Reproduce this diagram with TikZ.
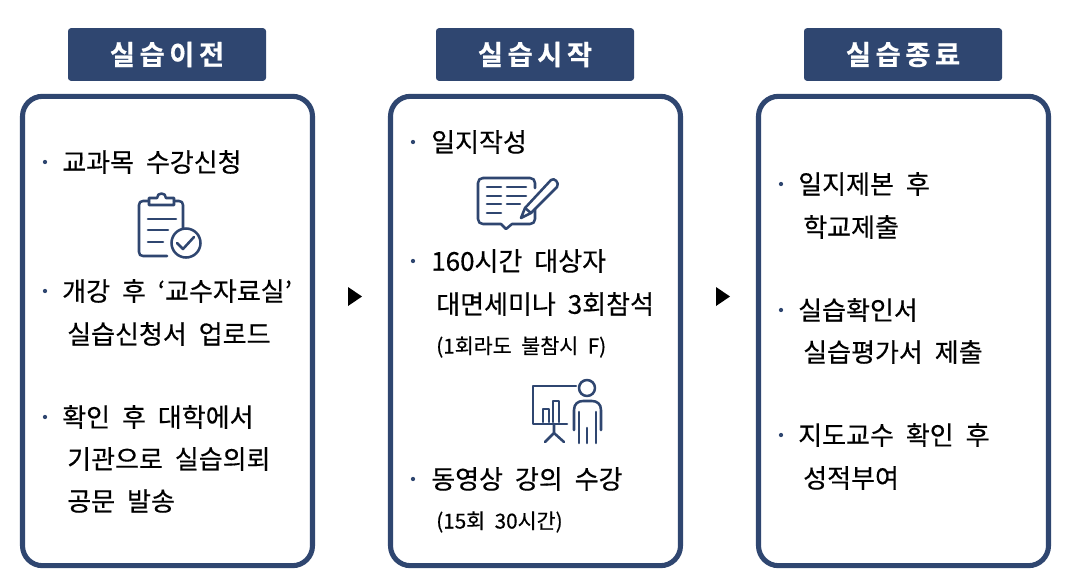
\documentclass[tikz,border=0pt]{standalone}
\usepackage{fontspec}
\setmainfont[WordSpace=2.05,FakeBold=0.4]{Noto Sans CJK KR}
\newfontfamily\titlefont[BoldFont={Noto Sans CJK KR Bold},BoldFeatures={FakeBold=0.6}]{Noto Sans CJK KR}
\usetikzlibrary{positioning, arrows}
\definecolor{navy}{HTML}{2F4670}
\tikzset{
  titlebox/.style={fill=navy, rounded corners=2.2pt, minimum width=148.5pt, minimum height=39.5pt, text=white, font=\titlefont\fontsize{20.5}{24}\selectfont\bfseries, inner sep=0pt},
  panel/.style={draw=navy, line width=3.8pt, rounded corners=15pt, fill=white, minimum width=217.5pt, minimum height=352pt, inner sep=0pt},
  item/.style={anchor=west, inner sep=0pt, text=black, font=\fontsize{19.5}{23}\selectfont},
  smallitem/.style={anchor=west, inner sep=0pt, text=black, font=\fontsize{15.5}{18}\selectfont},
  dot/.style={circle, fill=navy, inner sep=0pt, minimum size=3.2pt},
  icon/.style={draw=navy, line width=1.9pt, line cap=round, line join=round},
  pointer/.style={fill=black}
}
\begin{document}
\begin{tikzpicture}[x=0.75pt,y=-0.75pt]
\useasboundingbox (0,0) rectangle (1067,586);
% titles
\node[titlebox] (title1) at (167,54.5) {실\,습\,이\,전};
\node[titlebox] (title2) at (535,54.5) {실\,습\,시\,작};
\node[titlebox] (title3) at (903,54.5) {실\,습\,종\,료};
% panels
\node[panel] (panel1) at (167.5,331) {};
\node[panel] (panel2) at (535.5,331) {};
\node[panel] (panel3) at (903.5,331) {};
% first panel
\node[dot] (d11) at (45,162) {};
\node[item] (a1) at (62,162) {교과목 수강신청};
\node[dot] (d12) at (45,291) {};
\node[item] (a2) at (62,291) {개강 후 ‘교수자료실’};
\node[item] (a3) at (67,334) {실습신청서 업로드};
\node[dot] (d13) at (45,417) {};
\node[item] (a4) at (62,417) {확인 후 대학에서};
\node[item] (a5) at (67,459) {기관으로 실습의뢰};
\node[item] (a6) at (67,501) {공문 발송};
% second panel
\node[dot] (d21) at (413,142) {};
\node[item] (b1) at (431,142) {일지작성};
\node[dot] (d22) at (413,261) {};
\node[item] (b2) at (431,261) {160시간 대상자};
\node[item] (b3) at (436,304) {대면세미나 3회참석};
\node[smallitem] (b4) at (436,347) {(1회라도 불참시 F)};
\node[dot] (d23) at (413,479) {};
\node[item] (b5) at (431,479) {동영상 강의 수강};
\node[smallitem] (b6) at (436,522) {(15회 30시간)};
% third panel
\node[dot] (d31) at (781,184) {};
\node[item] (c1) at (798,184) {일지제본 후};
\node[item] (c2) at (803,227) {학교제출};
\node[dot] (d32) at (781,310) {};
\node[item] (c3) at (798,310) {실습확인서};
\node[item] (c4) at (803,352) {실습평가서 제출};
\node[dot] (d33) at (781,435) {};
\node[item] (c5) at (798,435) {지도교수 확인 후};
\node[item] (c6) at (803,478) {성적부여};
% pointers
\fill[pointer] (348,287) -- (362,296.5) -- (348,306) -- cycle;
\fill[pointer] (716,287) -- (730,296.5) -- (716,306) -- cycle;
% clipboard icon
\draw[icon] (174,201) -- (179,201) .. controls (181.5,201) and (183,202.5) .. (183,205) -- (183,228);
\draw[icon] (167,256) -- (143,256) .. controls (140.5,256) and (139,254.5) .. (139,252) -- (139,205) .. controls (139,202.5) and (140.5,201) .. (143,201) -- (149,201);
\draw[icon] (149,205) -- (149,198) -- (157,198) .. controls (157,192) and (166,192) .. (166,198) -- (174,198) -- (174,205) -- cycle;
\draw[icon] (148,219) -- (176,219);
\draw[icon] (148,230) -- (168,230);
\draw[icon] (148,242) -- (163,242);
\draw[icon] (186,243) circle[radius=14.5];
\draw[icon] (177,243) -- (183,249) -- (194,237);
% note icon
\draw[icon] (483,178) -- (530,178) .. controls (533,178) and (535,180) .. (535,183) -- (535,188);
\draw[icon] (535,209) -- (535,219) .. controls (535,222) and (533,224) .. (530,224) -- (512,224) -- (506,229) -- (501,224) -- (483,224) .. controls (480,224) and (478,222) .. (478,219) -- (478,183) .. controls (478,180) and (480,178) .. (483,178);
\draw[icon] (487,187) -- (501,187);
\draw[icon] (507,187) -- (526,187);
\draw[icon] (487,196) -- (501,196);
\draw[icon] (507,196) -- (526,196);
\draw[icon] (487,204) -- (501,204);
\draw[icon] (507,204) -- (520,204);
\draw[icon] (487,213) -- (501,213);
\draw[icon] (521,218) -- (525,208) -- (551,180) .. controls (554,177) and (560,183) .. (557,187) -- (531,213) -- cycle;
\draw[icon] (525,208) -- (531,213);
% presenter icon
\draw[icon] (576,386) -- (533,386) -- (533,424) -- (567,424);
\draw[icon] (554,424) -- (554,433) (545,442) -- (554,433) -- (564,442);
\draw[icon] (543,422) -- (543,409) -- (549,409) -- (549,422);
\draw[icon] (553,422) -- (553,401) -- (559,401) -- (559,422);
\draw[icon] (587,388) circle[radius=8];
\draw[icon] (579,443) -- (579,412) (596,443) -- (596,412) (587,428) -- (587,443);
\draw[icon] (574,430) -- (574,410) .. controls (574,404) and (578,401) .. (583,401) -- (592,401) .. controls (597,401) and (601,404) .. (601,410) -- (601,430);
\end{tikzpicture}
\end{document}
